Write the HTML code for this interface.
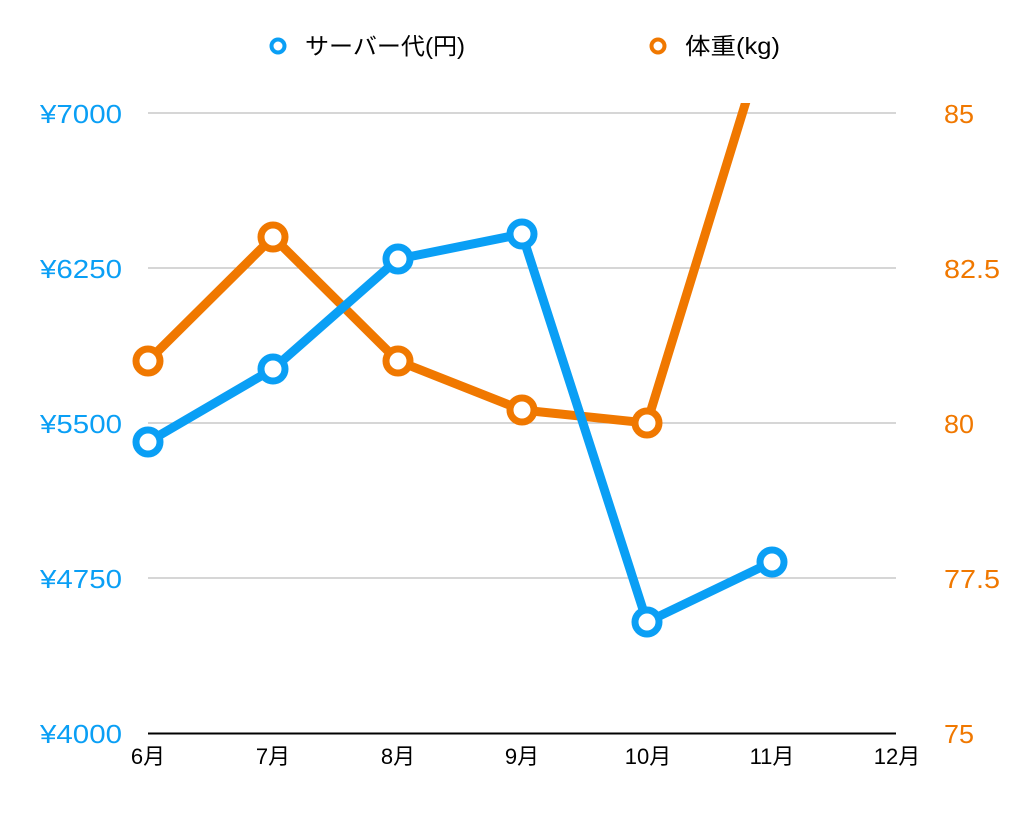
<!DOCTYPE html>
<html><head><meta charset="utf-8"><style>
html,body{margin:0;padding:0;background:#fff;}
svg{display:block;font-family:"Liberation Sans","Noto Sans CJK JP",sans-serif;}
</style></head><body>
<svg width="1020" height="822" viewBox="0 0 1020 822" xmlns="http://www.w3.org/2000/svg">
<defs><clipPath id="c"><rect x="0" y="103" width="1020" height="720"/></clipPath></defs>
<g stroke="#bdbdbd" stroke-width="1.2">
<line x1="148" y1="113" x2="896" y2="113"/>
<line x1="148" y1="268" x2="896" y2="268"/>
<line x1="148" y1="423" x2="896" y2="423"/>
<line x1="148" y1="578" x2="896" y2="578"/>
</g>
<line x1="148" y1="733.5" x2="896" y2="733.5" stroke="#000" stroke-width="2"/>
<g font-size="26" fill="#0a9ff5">
<text x="40" y="123" textLength="82" lengthAdjust="spacingAndGlyphs">¥7000</text>
<text x="40" y="278" textLength="82" lengthAdjust="spacingAndGlyphs">¥6250</text>
<text x="40" y="433" textLength="82" lengthAdjust="spacingAndGlyphs">¥5500</text>
<text x="40" y="588" textLength="82" lengthAdjust="spacingAndGlyphs">¥4750</text>
<text x="40" y="743" textLength="82" lengthAdjust="spacingAndGlyphs">¥4000</text>
</g>
<g font-size="26" fill="#f07800">
<text x="944" y="123" textLength="30" lengthAdjust="spacingAndGlyphs">85</text>
<text x="944" y="278" textLength="56" lengthAdjust="spacingAndGlyphs">82.5</text>
<text x="944" y="433" textLength="30" lengthAdjust="spacingAndGlyphs">80</text>
<text x="944" y="588" textLength="56" lengthAdjust="spacingAndGlyphs">77.5</text>
<text x="944" y="743" textLength="30" lengthAdjust="spacingAndGlyphs">75</text>
</g>
<g font-size="22" fill="#000" text-anchor="middle">
<text x="148" y="764">6月</text>
<text x="273" y="764">7月</text>
<text x="398" y="764">8月</text>
<text x="522" y="764">9月</text>
<text x="648" y="764">10月</text>
<text x="772" y="764">11月</text>
<text x="897" y="764">12月</text>
</g>
<circle cx="278" cy="46" r="6.5" fill="#fff" stroke="#0a9ff5" stroke-width="4"/>
<text x="305" y="54" font-size="23" fill="#000" textLength="160" lengthAdjust="spacingAndGlyphs">サーバー代(円)</text>
<circle cx="658" cy="46" r="6.5" fill="#fff" stroke="#f07800" stroke-width="4"/>
<text x="685" y="54" font-size="23" fill="#000" textLength="95" lengthAdjust="spacingAndGlyphs">体重(kg)</text>
<g clip-path="url(#c)">
<polyline points="148,361 273,237 398,361 522,410 647,423 772,17" fill="none" stroke="#f07800" stroke-width="9" stroke-linejoin="round"/>
</g>
<g fill="#fff" stroke="#f07800" stroke-width="7">
<circle cx="148" cy="361" r="12"/><circle cx="273" cy="237" r="12"/><circle cx="398" cy="361" r="12"/><circle cx="522" cy="410" r="12"/><circle cx="647" cy="423" r="12"/>
</g>
<polyline points="148,442 273,369 398,259 522,234 647,622 772,562" fill="none" stroke="#0a9ff5" stroke-width="9" stroke-linejoin="round"/>
<g fill="#fff" stroke="#0a9ff5" stroke-width="7">
<circle cx="148" cy="442" r="12"/><circle cx="273" cy="369" r="12"/><circle cx="398" cy="259" r="12"/><circle cx="522" cy="234" r="12"/><circle cx="647" cy="622" r="12"/><circle cx="772" cy="562" r="12"/>
</g>
</svg>
</body></html>
